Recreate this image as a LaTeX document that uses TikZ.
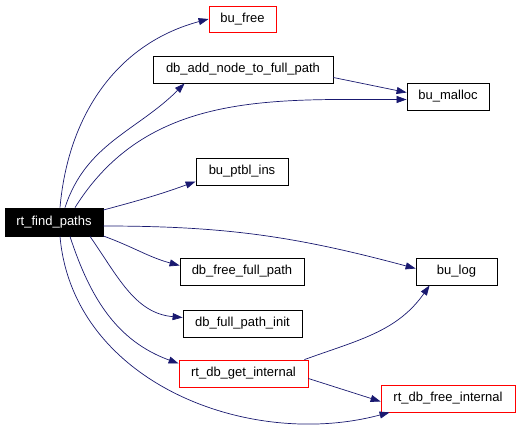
\documentclass[tikz,border=0pt]{standalone}
\usepackage{fontspec}
\setmainfont{Liberation Sans}
\usetikzlibrary{arrows.meta,positioning,calc}
\definecolor{callnavy}{RGB}{25,25,112}
\definecolor{callred} {RGB}{255,0,0}
\begin{document}
\begin{tikzpicture}[
    x=1pt,y=-1pt,
    >={Triangle[length=10pt,width=7pt]},
    fn/.style    ={draw,fill=white,line width=0.8pt,inner sep=0pt,
                   minimum height=27pt,font=\fontsize{13}{15}\selectfont},
    fnred/.style ={fn,draw=callred},
    fnroot/.style={fn,fill=black,text=white,minimum height=28pt},
    call/.style  ={->,callnavy,line width=0.7pt},
  ]
  \useasboundingbox (0,0) rectangle (520,447);

  %% Caller
  \node[fnroot,minimum width=98pt] (find) at (54,222) {rt\_find\_paths};

  %% Callees
  \node[fnred,minimum width=67pt,minimum height=26pt] (free) at (242.5,19) {bu\_free};
  \node[fn,minimum width=180pt] (addnode) at (243,69.5) {db\_add\_node\_to\_full\_path};
  \node[fn,minimum width=82pt] (malloc) at (448,96.5) {bu\_malloc};
  \node[fn,minimum width=92pt] (ptbl) at (242,171.5) {bu\_ptbl\_ins};
  \node[fn,minimum width=81pt] (log) at (456.5,271.5) {bu\_log};
  \node[fn,minimum width=124pt] (freefp) at (242,271.5) {db\_free\_full\_path};
  \node[fn,minimum width=119pt] (fpinit) at (242.5,323.5) {db\_full\_path\_init};
  \node[fnred,minimum width=129pt] (getint) at (243.5,373.5) {rt\_db\_get\_internal};
  \node[fnred,minimum width=134pt] (freeint) at (448,398.5) {rt\_db\_free\_internal};

  %% rt_find_paths -> upper callees
  \draw[call] ([xshift=6pt]find.north) to[out=85,in=195] (free.west);
  \draw[call] ([xshift=11pt]find.north) to[out=72,in=225]
    ([xshift=32pt]addnode.south west);
  \draw[call] ([xshift=21pt]find.north) to[out=58,in=180]
    ([yshift=-3pt]malloc.west);
  \draw[call] ([yshift=-8pt]addnode.east) -- ([yshift=4pt]malloc.west);
  \draw[call] ([yshift=12pt]find.east) to[out=15,in=200] ([yshift=-10pt]ptbl.west);

  %% rt_find_paths -> lower callees
  \draw[call] ([yshift=-4pt]find.east) to[out=0,in=165] ([yshift=3pt]log.west);
  \draw[call] ([yshift=-14pt]find.east) to[out=-20,in=165]
    ([yshift=6pt]freefp.west);
  \draw[call] ([xshift=36pt]find.south) to[out=-55,in=175]
    ([yshift=6pt]fpinit.west);
  \draw[call] ([xshift=16pt]find.south) to[out=-72,in=160]
    ([yshift=10pt]getint.west);
  \draw[call] ([xshift=6pt]find.south) to[out=-85,in=195]
    ([xshift=9pt]freeint.south west);

  %% rt_db_get_internal -> callees
  \draw[call] ([xshift=-4pt]getint.north east) to[out=20,in=235]
    ([xshift=14pt]log.south west);
  \draw[call] ([yshift=-5pt]getint.east) -- ([yshift=-3pt]freeint.west);
\end{tikzpicture}
\end{document}
